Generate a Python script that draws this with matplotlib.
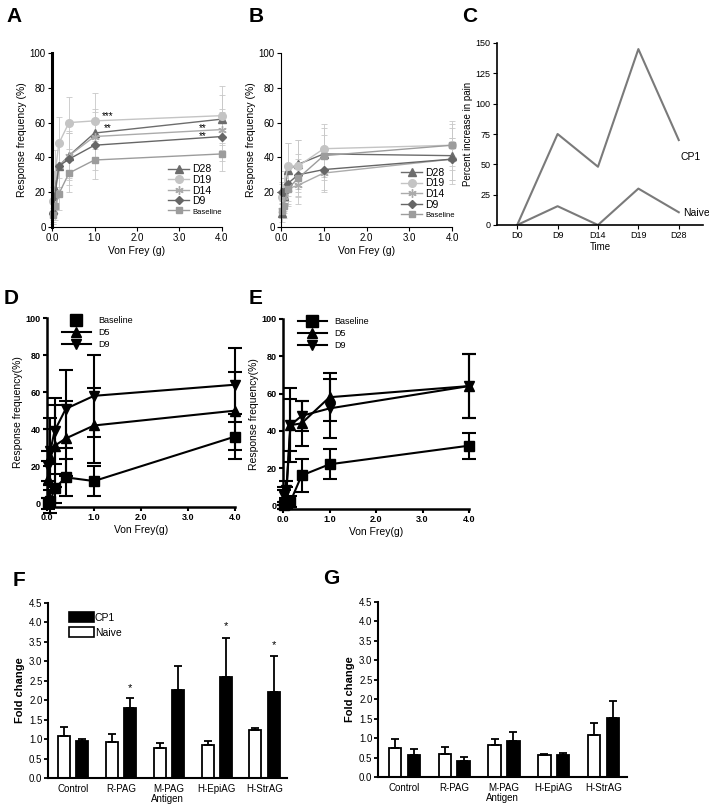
import matplotlib
matplotlib.use("Agg")
import matplotlib.pyplot as plt
from matplotlib.lines import Line2D
from matplotlib.patches import Patch
import numpy as np

plt.rcParams['font.family'] = ['Liberation Sans', 'DejaVu Sans']

# von Frey filaments (g)
vf = [0.02, 0.07, 0.16, 0.4, 1.0, 4.0]

# Panel A - CP1 mice
a_d28 = [10, 22, 35, 41, 54, 62]
a_d28_err = [6, 10, 12, 14, 14, 14]
a_d19 = [15, 30, 48, 60, 61, 64]
a_d19_err = [8, 14, 15, 15, 16, 17]
a_d14 = [8, 20, 35, 41, 52, 56]
a_d14_err = [6, 10, 12, 13, 14, 12]
a_d9 = [8, 18, 35, 39, 47, 52]
a_d9_err = [6, 10, 12, 15, 14, 14]
a_base = [7, 12, 19, 31, 38.5, 42]
a_base_err = [4, 8, 9, 11, 11, 10]

# Panel B - naive mice
b_d28 = [8, 18, 33, 36, 42, 41]
b_d28_err = [5, 10, 15, 14, 15, 16]
b_d19 = [17, 22, 35, 35, 45, 47]
b_d19_err = [8, 10, 13, 15, 14, 14]
b_d14 = [10, 17, 22, 24, 31, 39]
b_d14_err = [5, 8, 10, 11, 11, 12]
b_d9 = [20, 20, 25, 30, 33, 39]
b_d9_err = [6, 8, 10, 12, 12, 12]
b_base = [9, 12, 22, 28, 41, 47]
b_base_err = [4, 7, 9, 11, 12, 12]

# Panel C
days = ['D0', 'D9', 'D14', 'D19', 'D28']
c_cp1 = [0, 75, 48, 145, 70]
c_naive = [0, 15.5, 0, 30, 10.5]

# Panel D
d_base = [0, 1, 8, 14, 12, 36]
d_base_err = [3, 6, 8, 10, 8, 12]
d_d5 = [13, 25, 31, 35, 42, 50]
d_d5_err = [10, 15, 22, 20, 20, 21]
d_d9 = [20, 28, 39, 51, 58, 64]
d_d9_err = [8, 18, 18, 21, 22, 20]

# Panel E
e_base = [0, 1, 2, 16, 22, 32]
e_base_err = [2, 3, 3, 9, 8, 7]
e_d5 = [3, 5, 43, 44, 58, 64]
e_d5_err = [5, 5, 20, 12, 13, 17]
e_d9 = [5, 8, 43, 48, 52, 64]
e_d9_err = [5, 5, 14, 8, 16, 17]

# Panels F and G
antigens = ['Control', 'R-PAG', 'M-PAG', 'H-EpiAG', 'H-StrAG']
f_naive = [1.08, 0.92, 0.78, 0.85, 1.24]
f_naive_err = [0.22, 0.20, 0.11, 0.10, 0.04]
f_cp1 = [0.96, 1.80, 2.27, 2.60, 2.22]
f_cp1_err = [0.04, 0.25, 0.61, 1.00, 0.92]
g_naive = [0.75, 0.60, 0.83, 0.56, 1.07]
g_naive_err = [0.22, 0.18, 0.14, 0.04, 0.33]
g_cp1 = [0.56, 0.40, 0.92, 0.56, 1.52]
g_cp1_err = [0.16, 0.12, 0.24, 0.06, 0.43]

W, H = 709, 808
fig = plt.figure(figsize=(W / 100, H / 100), dpi=100)


def px_axes(l, r, t, b):
    return fig.add_axes([l / W, 1 - b / H, (r - l) / W, (b - t) / H])


def clean(ax, lw=1.0):
    ax.spines['top'].set_visible(False)
    ax.spines['right'].set_visible(False)
    ax.spines['left'].set_linewidth(lw)
    ax.spines['bottom'].set_linewidth(lw)


def panel_letter(x, y, s):
    fig.text(x / W, 1 - y / H, s, fontsize=15, fontweight='bold', ha='center', va='center')


# ---------------- A and B ----------------
styles = [('D28', '#6c6c6c', '^', 5.5),
          ('D19', '#c4c4c4', 'o', 5.5),
          ('D14', '#ababab', (6, 2, 0), 6),
          ('D9', '#666666', 'D', 4.5),
          ('Baseline', '#9c9c9c', 's', 5)]


def freq_panel(ax, series, errs, leg_anchor, left_lw):
    handles = []
    for (name, col, mk, ms), y, e in zip(styles, series, errs):
        ax.errorbar(vf, y, yerr=e, color=col, ecolor='#c8c8c8', elinewidth=0.6,
                    capsize=2.5, capthick=0.6, marker=mk, ms=ms, lw=1.0, clip_on=False)
        handles.append(Line2D([], [], color=col, marker=mk, ms=ms, lw=1.0))
    ax.set_xlim(0, 4.0)
    ax.set_ylim(0, 100)
    ax.set_xticks([0, 1, 2, 3, 4])
    ax.set_xticklabels(['0.0', '1.0', '2.0', '3.0', '4.0'])
    ax.set_yticks([0, 20, 40, 60, 80, 100])
    ax.tick_params(labelsize=7, length=3, width=0.8, pad=1.5)
    ax.set_xlabel('Von Frey (g)', fontsize=7.5, labelpad=2)
    ax.set_ylabel('Response frequency (%)', fontsize=7.5, labelpad=2)
    clean(ax, 0.8)
    ax.spines['left'].set_linewidth(left_lw)
    leg = ax.legend(handles, [s[0] for s in styles], loc='lower left', bbox_to_anchor=leg_anchor,
                    frameon=False, fontsize=7.5, handlelength=2.0, labelspacing=0.05,
                    handletextpad=0.3, borderaxespad=0)
    leg.get_texts()[-1].set_fontsize(5.5)


axA = px_axes(52, 222, 53, 227)
freq_panel(axA, [a_d28, a_d19, a_d14, a_d9, a_base],
           [a_d28_err, a_d19_err, a_d14_err, a_d9_err, a_base_err], (0.66, 0.04), 2.2)
axA.text(1.3, 64, '***', fontsize=7, ha='center', va='center')
axA.text(1.3, 57, '**', fontsize=7, ha='center', va='center')
axA.text(3.55, 57, '**', fontsize=7, ha='center', va='center')
axA.text(3.55, 52, '**', fontsize=7, ha='center', va='center')

axB = px_axes(281, 452, 53, 227)
freq_panel(axB, [b_d28, b_d19, b_d14, b_d9, b_base],
           [b_d28_err, b_d19_err, b_d14_err, b_d9_err, b_base_err], (0.68, 0.02), 0.8)

# ---------------- C ----------------
axC = px_axes(497, 703, 43, 225)
cx = np.arange(len(days))
axC.plot(cx, c_cp1, color='#7a7a7a', lw=1.5)
axC.plot(cx, c_naive, color='#7a7a7a', lw=1.5)
axC.text(4.05, 56, 'CP1', fontsize=7.5, ha='left', va='center')
axC.text(4.1, 10, 'Naive', fontsize=7.5, ha='left', va='center')
axC.set_xlim(-0.5, 4.6)
axC.set_ylim(0, 150)
axC.set_xticks(cx)
axC.set_xticklabels(days)
axC.set_yticks([0, 25, 50, 75, 100, 125, 150])
axC.tick_params(labelsize=6.5, length=3, width=0.8, pad=1.5)
axC.set_xlabel('Time', fontsize=7, labelpad=1)
axC.set_ylabel('Percent increase in pain', fontsize=7, labelpad=2)
clean(axC, 1.2)

# ---------------- D and E ----------------
narrow = ['Liberation Sans Narrow', 'DejaVu Sans Condensed', 'Liberation Sans']


def vf_panel(ax, base, base_e, d5, d5_e, d9, d9_e, leg_anchor, base_line):
    kw = dict(color='black', lw=1.5, elinewidth=1.5, capsize=5, capthick=1.5, clip_on=False)
    ax.errorbar(vf, base, yerr=base_e, marker='s', ms=7, **kw)
    ax.errorbar(vf, d5, yerr=d5_e, marker='^', ms=7, **kw)
    ax.errorbar(vf, d9, yerr=d9_e, marker='v', ms=7, **kw)
    ax.set_xlim(0, 4.0)
    ax.set_ylim(-2, 100)
    ax.set_xticks([0, 1, 2, 3, 4])
    ax.set_xticklabels(['0.0', '1.0', '2.0', '3.0', '4.0'])
    ax.set_yticks([0, 20, 40, 60, 80, 100])
    ax.tick_params(length=3, width=1.5, pad=1.5)
    for t in ax.get_xticklabels() + ax.get_yticklabels():
        t.set_fontsize(6.5)
        t.set_fontweight('bold')
        t.set_family(narrow)
    ax.set_xlabel('Von Frey(g)', fontsize=7.5, family=narrow, labelpad=2)
    ax.set_ylabel('Response frequency(%)', fontsize=7.5, family=narrow, labelpad=2)
    clean(ax, 1.8)
    h = [Line2D([], [], color='black', marker='s', ms=8, lw=1.5 if base_line else 0),
         Line2D([], [], color='black', marker='^', ms=7, lw=1.5),
         Line2D([], [], color='black', marker='v', ms=7, lw=1.5)]
    ax.legend(h, ['Baseline', 'D5', 'D9'], loc='upper left', bbox_to_anchor=leg_anchor,
              frameon=False, prop={'family': narrow, 'size': 6.5}, handlelength=3.2,
              labelspacing=0.35, handletextpad=0.8, borderaxespad=0)


axD = px_axes(47, 235, 318, 507)
vf_panel(axD, d_base, d_base_err, d_d5, d_d5_err, d_d9, d_d9_err, (0.06, 1.03), False)
axE = px_axes(283, 469, 319, 509)
vf_panel(axE, e_base, e_base_err, e_d5, e_d5_err, e_d9, e_d9_err, (0.06, 1.03), True)


# ---------------- F and G ----------------
def bar_panel(ax, naive, naive_e, cp1, cp1_e, stars, legend):
    x = np.arange(len(antigens))
    w = 0.25
    zeros = [0] * len(x)
    ax.bar(x - 0.19, naive, w, color='white', edgecolor='black', lw=1.3)
    ax.errorbar(x - 0.19, naive, yerr=[zeros, naive_e], fmt='none', ecolor='black',
                elinewidth=1.3, capsize=3, capthick=1.3)
    ax.bar(x + 0.19, cp1, w, color='black', edgecolor='black', lw=1.3)
    ax.errorbar(x + 0.19, cp1, yerr=[zeros, cp1_e], fmt='none', ecolor='black',
                elinewidth=1.3, capsize=3, capthick=1.3)
    for i, ys in stars:
        ax.text(i + 0.19, ys, '*', fontsize=8, ha='center', va='center')
    ax.set_xlim(-0.53, 4.47)
    ax.set_ylim(0, 4.5)
    ax.set_yticks(np.arange(0, 4.51, 0.5))
    ax.set_yticklabels(['%.1f' % v for v in np.arange(0, 4.51, 0.5)])
    ax.set_xticks(x)
    ax.set_xticklabels(antigens)
    ax.tick_params(axis='x', length=0, pad=4, labelsize=7)
    ax.tick_params(axis='y', length=3, width=1.3, pad=1, labelsize=7)
    ax.set_xlabel('Antigen', fontsize=7, labelpad=0)
    ax.set_ylabel('Fold change', fontsize=8, fontweight='bold', labelpad=3)
    clean(ax, 1.5)
    if legend:
        h = [Patch(facecolor='black', edgecolor='black', lw=1.2),
             Patch(facecolor='white', edgecolor='black', lw=1.2)]
        ax.legend(h, ['CP1', 'Naive'], loc='upper left', bbox_to_anchor=(0.07, 0.97),
                  frameon=False, fontsize=7.5, handlelength=2.4, handleheight=1.0,
                  handletextpad=0.1, labelspacing=0.45, borderaxespad=0)


axF = px_axes(48, 287, 603, 778)
bar_panel(axF, f_naive, f_naive_err, f_cp1, f_cp1_err, [(1, 2.32), (3, 3.9), (4, 3.43)], True)
axG = px_axes(378, 627, 602, 777)
bar_panel(axG, g_naive, g_naive_err, g_cp1, g_cp1_err, [], False)

panel_letter(14, 16, 'A')
panel_letter(256, 16, 'B')
panel_letter(470, 16, 'C')
panel_letter(11, 298, 'D')
panel_letter(256, 298, 'E')
panel_letter(19, 580, 'F')
panel_letter(331, 579, 'G')

fig.savefig('out.png', dpi=100)
